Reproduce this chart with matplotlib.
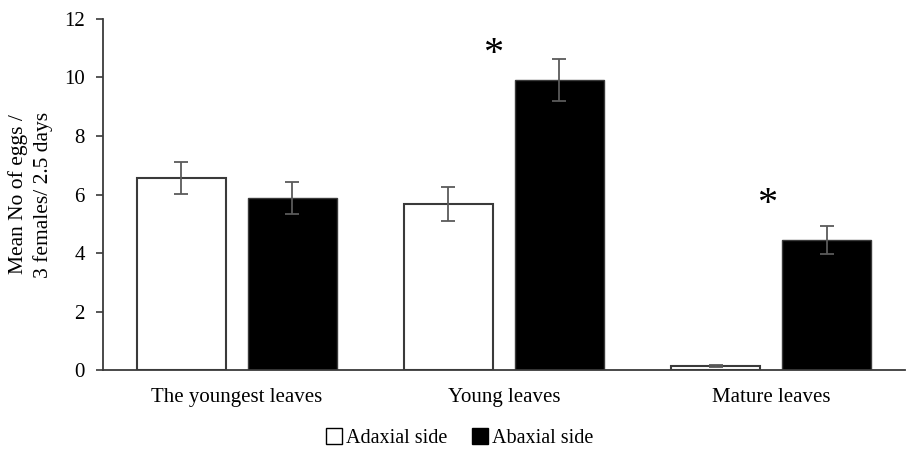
import matplotlib.pyplot as plt
import numpy as np
from matplotlib.patches import Patch

categories = ["The youngest leaves", "Young leaves", "Mature leaves"]
adaxial = [6.57, 5.66, 0.14]
adaxial_err = [0.54, 0.58, 0.03]
abaxial = [5.87, 9.90, 4.44]
abaxial_err = [0.55, 0.72, 0.49]
# asterisks: (x, y) in data units
stars_x = [0.96, 1.985]
stars_y = [10.8, 5.66]

plt.rcParams['font.family'] = ['Liberation Serif', 'DejaVu Serif']

fig = plt.figure(figsize=(9.08, 4.49), dpi=100)
ax = fig.add_axes([0.1134, 0.1759, 0.883, 0.7818])

x = np.arange(len(categories))
w = 0.333
off = 0.208
ekw = dict(ecolor="#5a5a5a", elinewidth=1.3, capsize=5, capthick=1.3)
ax.bar(x - off, adaxial, w, yerr=adaxial_err, color="white", edgecolor="#3a3a3a",
       linewidth=1.5, error_kw=ekw, label="Adaxial side")
ax.bar(x + off, abaxial, w, yerr=abaxial_err, color="black", edgecolor="#3a3a3a",
       linewidth=1.0, error_kw=ekw, label="Abaxial side")

for sx, sy in zip(stars_x, stars_y):
    ax.text(sx, sy, "*", ha="center", va="center", fontsize=29)

ax.set_xlim(-0.5, 2.5)
ax.set_ylim(0, 12)
ax.set_yticks(range(0, 13, 2))
ax.set_xticks(x)
ax.set_xticklabels(categories, fontsize=15)
ax.tick_params(axis="x", length=0, pad=13)
ax.tick_params(axis="y", length=5, width=1.2, color="#3a3a3a", labelsize=15, pad=8)
for s in ["top", "right"]:
    ax.spines[s].set_visible(False)
for s in ["left", "bottom"]:
    ax.spines[s].set_color("#3a3a3a")
    ax.spines[s].set_linewidth(1.3)

ax.set_ylabel("Mean No of eggs /\n3 females/ 2.5 days", fontsize=15.5, linespacing=1.35, labelpad=8)

handles = [Patch(facecolor="white", edgecolor="black", linewidth=1.0, label="Adaxial side"),
           Patch(facecolor="black", edgecolor="black", label="Abaxial side")]
fig.legend(handles=handles, loc="center", bbox_to_anchor=(0.506, 0.024), ncol=2, frameon=False,
           fontsize=14.5, handlelength=0.8, handleheight=0.8, handletextpad=0.2, columnspacing=1.2)

fig.savefig("out.png", dpi=100)
